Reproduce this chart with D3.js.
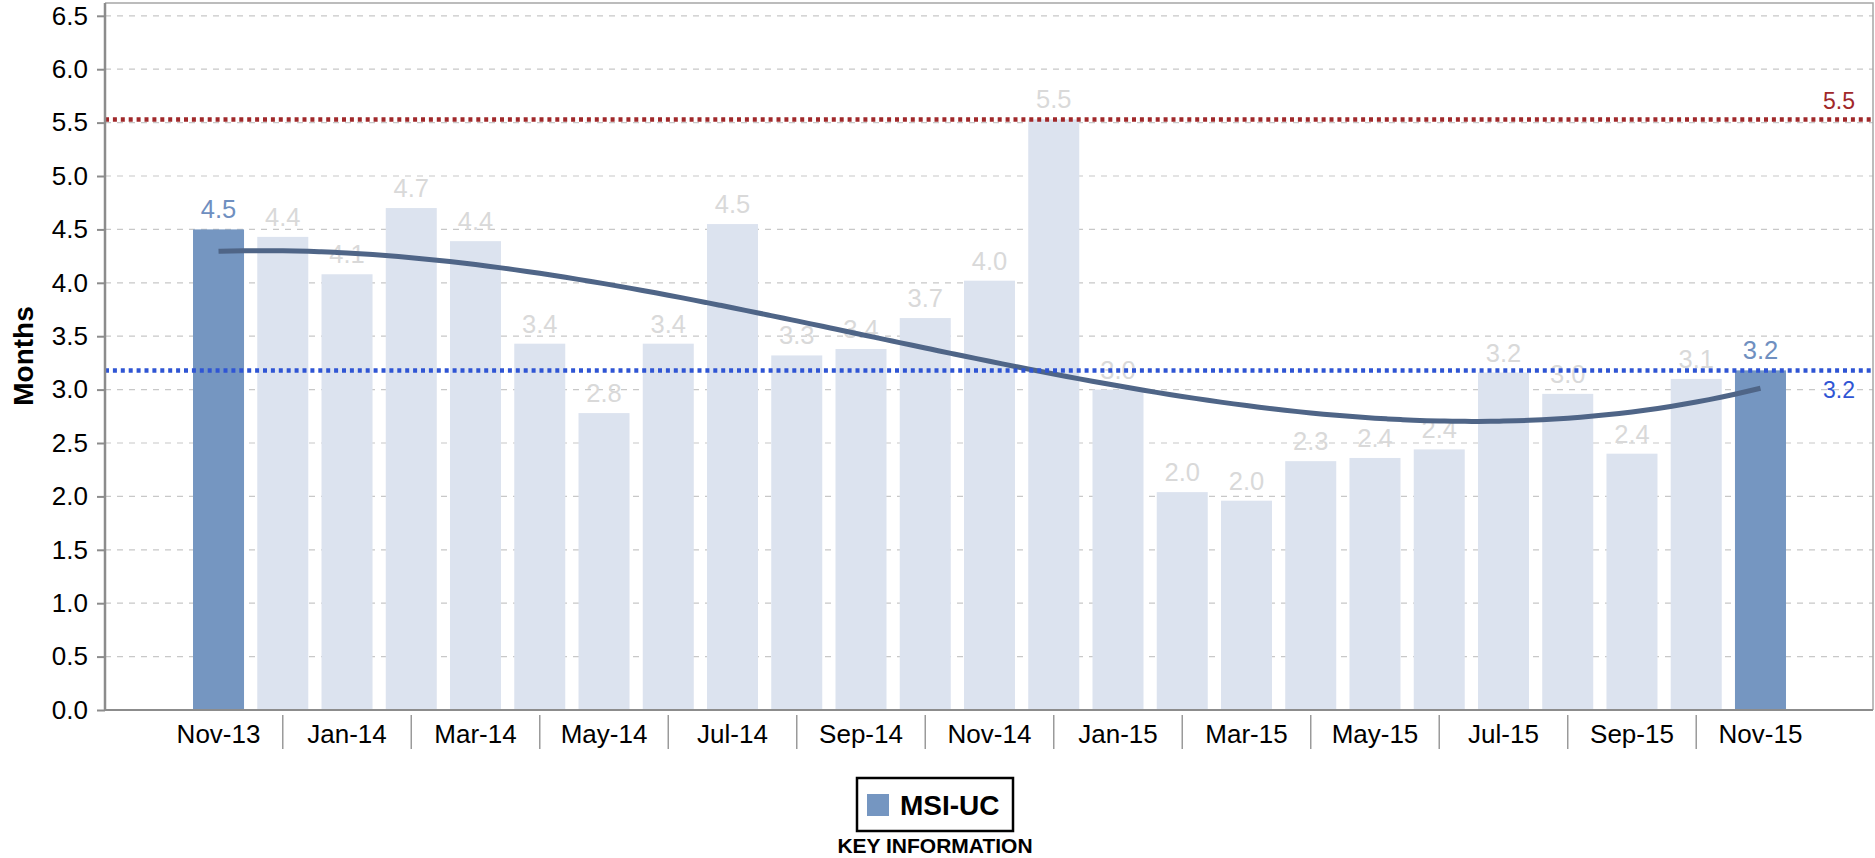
<!DOCTYPE html>
<html><head><meta charset="utf-8">
<script src="https://cdn.jsdelivr.net/npm/d3@7"></script>
<style>body{margin:0;background:#fff}svg{display:block;font-family:"Liberation Sans",Arial,sans-serif}</style>
</head><body><svg id="c" width="1875" height="858"></svg>
<script>
const categories = ["Nov-13","Dec-13","Jan-14","Feb-14","Mar-14","Apr-14","May-14","Jun-14","Jul-14","Aug-14","Sep-14","Oct-14","Nov-14","Dec-14","Jan-15","Feb-15","Mar-15","Apr-15","May-15","Jun-15","Jul-15","Aug-15","Sep-15","Oct-15","Nov-15"];
const msiValues = [4.50,4.43,4.08,4.70,4.39,3.43,2.78,3.43,4.55,3.32,3.38,3.67,4.02,5.53,3.00,2.04,1.96,2.33,2.36,2.44,3.16,2.96,2.40,3.10,3.18];
const yTicks = [0,0.5,1,1.5,2,2.5,3,3.5,4,4.5,5,5.5,6,6.5];
const seriesName = "MSI-UC";
const yTitle = "Months";
const legendTitle = "KEY INFORMATION";

const svg = d3.select("#c");
const L = 105, R = 1873, T = 3, B = 710;
const y = d3.scaleLinear().domain([0, 6.62]).range([B, T]);
const x = d3.scaleBand().domain(categories).range([186.4, 1792.6]).paddingInner(0.206).paddingOuter(0.103);
const cx = c => x(c) + x.bandwidth() / 2;
const n = categories.length;

// grid
svg.append("g").selectAll("line").data(yTicks.filter(d => d > 0)).join("line")
  .attr("x1", L).attr("x2", R).attr("y1", d => y(d)).attr("y2", d => y(d))
  .attr("stroke", "#c8c8c8").attr("stroke-width", 1.2).attr("stroke-dasharray", "6,6");

// bars
const isKey = i => i === 0 || i === n - 1;
svg.append("g").selectAll("rect").data(msiValues).join("rect")
  .attr("x", (d, i) => x(categories[i])).attr("width", x.bandwidth())
  .attr("y", d => y(d)).attr("height", d => B - y(d))
  .attr("fill", (d, i) => isKey(i) ? "#7596c1" : "#dce3ef");

// data labels
svg.append("g").selectAll("text").data(msiValues).join("text")
  .attr("x", (d, i) => cx(categories[i])).attr("y", d => y(d) - 11)
  .attr("text-anchor", "middle").attr("font-size", 25.5)
  .attr("fill", (d, i) => isKey(i) ? "#6f8fc0" : "#d9d9d9")
  .text(d => d.toFixed(1));

// cubic trend (least squares)
function polyfit(xs, ys, deg) {
  const m = deg + 1;
  const A = Array.from({length: m}, () => new Array(m + 1).fill(0));
  xs.forEach((xv, k) => {
    for (let r = 0; r < m; r++) {
      for (let c = 0; c < m; c++) A[r][c] += Math.pow(xv, r + c);
      A[r][m] += ys[k] * Math.pow(xv, r);
    }
  });
  for (let i = 0; i < m; i++) {
    let p = i;
    for (let r = i + 1; r < m; r++) if (Math.abs(A[r][i]) > Math.abs(A[p][i])) p = r;
    [A[i], A[p]] = [A[p], A[i]];
    for (let r = 0; r < m; r++) if (r !== i) {
      const f = A[r][i] / A[i][i];
      for (let c = i; c <= m; c++) A[r][c] -= f * A[i][c];
    }
  }
  return A.map((row, i) => row[m] / row[i]);
}
const idx = msiValues.map((d, i) => i);
const coef = polyfit(idx.map(i => i - 12), msiValues, 3);
const fx = t => coef.reduce((s, c, k) => s + c * Math.pow(t - 12, k), 0);
const xi = d3.scaleLinear().domain([0, n - 1]).range([cx(categories[0]), cx(categories[n - 1])]);
const samples = d3.range(0, n - 1 + 0.001, 0.2);
svg.append("path").datum(samples)
  .attr("d", d3.line().x(t => xi(t)).y(t => y(fx(t))).curve(d3.curveMonotoneX))
  .attr("fill", "none").attr("stroke", "#4f6587").attr("stroke-width", 5);

// reference lines
const maxV = d3.max(msiValues), lastV = msiValues[n - 1];
svg.append("line").attr("x1", L).attr("x2", R).attr("y1", y(maxV)).attr("y2", y(maxV))
  .attr("stroke", "#a0282a").attr("stroke-width", 4.5).attr("stroke-dasharray", "4,3.9");
svg.append("line").attr("x1", L).attr("x2", R).attr("y1", y(lastV)).attr("y2", y(lastV))
  .attr("stroke", "#2f55d4").attr("stroke-width", 4.5).attr("stroke-dasharray", "4,3.9");
svg.append("text").attr("x", 1855).attr("y", y(maxV) - 10).attr("text-anchor", "end")
  .attr("font-size", 23).attr("fill", "#a0282a").text(maxV.toFixed(1));
svg.append("text").attr("x", 1855).attr("y", y(lastV) + 28).attr("text-anchor", "end")
  .attr("font-size", 23).attr("fill", "#2f55d4").text(lastV.toFixed(1));

// frame
svg.append("path").attr("d", `M${L},${T}H${R}V${B}`).attr("fill", "none").attr("stroke", "#a6a6a6").attr("stroke-width", 1.5);
svg.append("line").attr("x1", L).attr("x2", R).attr("y1", B).attr("y2", B).attr("stroke", "#8c8c8c").attr("stroke-width", 2);

// y axis
const yAxis = d3.axisLeft(y).tickValues(yTicks).tickFormat(d3.format(".1f")).tickSize(8).tickPadding(9);
const ga = svg.append("g").attr("transform", `translate(${L},0)`).call(yAxis);
ga.select(".domain").attr("stroke", "#8c8c8c").attr("stroke-width", 2.5).attr("d", `M0,${T}V${B}`);
ga.selectAll(".tick line").attr("stroke", "#8c8c8c").attr("stroke-width", 2);
ga.selectAll(".tick text").attr("font-size", 26).attr("fill", "#000").attr("font-family", "Liberation Sans, Arial, sans-serif");

// x axis labels and separators
const gx = svg.append("g");
gx.selectAll("text").data(categories.filter((c, i) => i % 2 === 0)).join("text")
  .attr("x", c => cx(c)).attr("y", 743).attr("text-anchor", "middle")
  .attr("font-size", 26).attr("fill", "#000").text(c => c);
gx.selectAll("line").data(categories.filter((c, i) => i % 2 === 1)).join("line")
  .attr("x1", c => cx(c)).attr("x2", c => cx(c)).attr("y1", 715).attr("y2", 749)
  .attr("stroke", "#9a9a9a").attr("stroke-width", 1.5);

// y title
svg.append("text").attr("transform", "translate(33,356) rotate(-90)").attr("text-anchor", "middle")
  .attr("font-size", 28).attr("font-weight", "bold").attr("fill", "#000").text(yTitle);

// legend
const lg = svg.append("g");
lg.append("rect").attr("x", 857).attr("y", 778).attr("width", 156).attr("height", 53)
  .attr("fill", "#fff").attr("stroke", "#000").attr("stroke-width", 2.5);
lg.append("rect").attr("x", 867).attr("y", 794).attr("width", 22).attr("height", 22).attr("fill", "#7596c1");
lg.append("text").attr("x", 900).attr("y", 815).attr("font-size", 28).attr("font-weight", "bold").attr("fill", "#000").text(seriesName);
lg.append("text").attr("x", 935).attr("y", 853).attr("text-anchor", "middle").attr("font-size", 21).attr("font-weight", "bold").attr("fill", "#000").text(legendTitle);
</script></body></html>
